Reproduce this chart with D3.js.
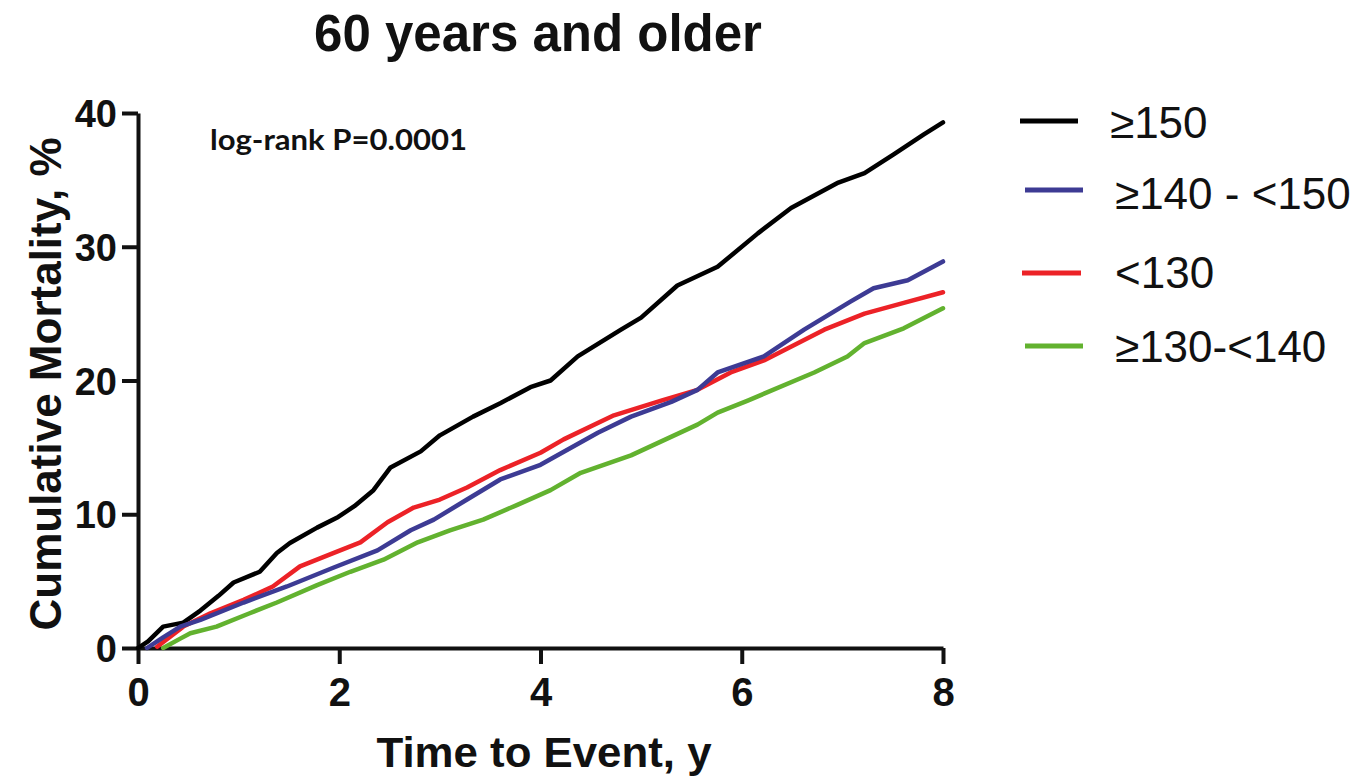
<!DOCTYPE html>
<html>
<head>
<meta charset="utf-8">
<script src="https://cdn.jsdelivr.net/npm/d3@7"></script>
<style>
  html, body { margin: 0; padding: 0; background: #fff; }
  svg { display: block; }
</style>
</head>
<body>
<svg id="chart" width="1372" height="779"></svg>
<script>
// ---- data ----
const titleText = "60 years and older";
const xTicks = [0, 2, 4, 6, 8];
const yTicks = [0, 10, 20, 30, 40];
const seriesNames = ["≥150", "≥140 - <150", "<130", "≥130-<140"];
const seriesColors = ["#000000", "#3d3b94", "#ec2227", "#62b22f"];

const ge150 = [[0,0],[0.1,0.5],[0.25,1.6],[0.45,1.9],[0.62,2.8],[0.8,3.9],[0.95,4.9],[1.21,5.7],[1.38,7.1],[1.51,7.85],[1.78,9.0],[1.99,9.8],[2.15,10.6],[2.34,11.8],[2.51,13.5],[2.81,14.7],[3.0,15.9],[3.33,17.3],[3.6,18.3],[3.9,19.5],[4.1,20.0],[4.37,21.8],[4.8,23.8],[5.0,24.7],[5.36,27.1],[5.76,28.5],[6.16,31.0],[6.49,32.9],[6.96,34.8],[7.22,35.5],[7.51,36.9],[7.81,38.4],[8.0,39.3]];
const ge140lt150 = [[0.09,0],[0.25,0.8],[0.42,1.6],[0.62,2.1],[1.05,3.4],[1.48,4.6],[1.94,6.0],[2.38,7.3],[2.71,8.8],[2.94,9.6],[3.27,11.1],[3.6,12.6],[4.0,13.7],[4.57,16.1],[4.9,17.3],[5.3,18.4],[5.56,19.3],[5.76,20.6],[6.22,21.8],[6.62,23.8],[7.08,25.9],[7.31,26.9],[7.65,27.5],[8.0,28.9]];
const lt130 = [[0.19,0.1],[0.45,1.6],[0.72,2.6],[1.05,3.6],[1.34,4.6],[1.61,6.1],[1.94,7.1],[2.21,7.9],[2.48,9.4],[2.74,10.5],[3.0,11.1],[3.27,12.0],[3.6,13.3],[4.0,14.6],[4.23,15.6],[4.73,17.4],[5.2,18.5],[5.56,19.3],[5.89,20.6],[6.22,21.5],[6.82,23.8],[7.22,25.0],[7.61,25.8],[8.0,26.6]];
const ge130lt140 = [[0.25,0],[0.42,0.7],[0.52,1.1],[0.78,1.6],[1.11,2.6],[1.38,3.4],[1.78,4.7],[2.11,5.7],[2.44,6.6],[2.78,7.9],[3.1,8.8],[3.43,9.6],[3.77,10.7],[4.1,11.8],[4.4,13.1],[4.9,14.4],[5.56,16.7],[5.76,17.6],[6.06,18.5],[6.72,20.6],[7.05,21.8],[7.22,22.8],[7.61,23.9],[8.0,25.4]];
const seriesData = [ge150, ge140lt150, lt130, ge130lt140];

// ---- layout ----
const svg = d3.select("#chart");
const x = d3.scaleLinear().domain([0, 8]).range([138, 943]);
const y = d3.scaleLinear().domain([0, 40]).range([648, 113]);
const font = "'Liberation Sans', Arial, sans-serif";

// title
svg.append("text")
  .attr("x", 538).attr("y", 51)
  .attr("text-anchor", "middle")
  .attr("font-family", font).attr("font-weight", "bold").attr("font-size", 51)
  .attr("fill", "#111")
  .text(titleText);

// axes
const xAxis = d3.axisBottom(x).tickValues(xTicks).tickSize(16).tickSizeOuter(0).tickPadding(14).tickFormat(d3.format("d"));
const yAxis = d3.axisLeft(y).tickValues(yTicks).tickSize(16).tickSizeOuter(0).tickPadding(5).tickFormat(d3.format("d"));

const gx = svg.append("g").attr("transform", `translate(0,${y(0)})`).call(xAxis);
const gy = svg.append("g").attr("transform", `translate(${x(0)},0)`).call(yAxis);

[gx, gy].forEach(g => {
  g.select(".domain").attr("stroke", "#111").attr("stroke-width", 4);
  g.selectAll(".tick line").attr("stroke", "#111").attr("stroke-width", 4);
  g.selectAll(".tick text")
    .attr("font-family", font).attr("font-weight", "bold")
    .attr("fill", "#111");
});
gx.selectAll(".tick text").attr("font-size", 40);
gy.selectAll(".tick text").attr("font-size", 38).attr("dy", "0.36em");

// axis titles
svg.append("text")
  .attr("x", 544).attr("y", 767)
  .attr("text-anchor", "middle")
  .attr("font-family", font).attr("font-weight", "bold").attr("font-size", 42)
  .attr("fill", "#111")
  .attr("textLength", 335).attr("lengthAdjust", "spacingAndGlyphs")
  .text("Time to Event, y");

svg.append("text")
  .attr("transform", "translate(61,384) rotate(-90)")
  .attr("text-anchor", "middle")
  .attr("font-family", font).attr("font-weight", "bold").attr("font-size", 44)
  .attr("fill", "#111")
  .text("Cumulative Mortality, %");

// annotation
svg.append("text")
  .attr("x", 210).attr("y", 150)
  .attr("font-family", "Lato, 'Open Sans', sans-serif").attr("font-weight", "bold").attr("font-size", 29)
  .attr("fill", "#111")
  .attr("textLength", 257).attr("lengthAdjust", "spacingAndGlyphs")
  .text("log-rank P=0.0001");

// lines
const line = d3.line().x(d => x(d[0])).y(d => y(d[1]));
const drawOrder = [0, 3, 2, 1];
drawOrder.forEach(i => {
  svg.append("path")
    .datum(seriesData[i])
    .attr("fill", "none")
    .attr("stroke", seriesColors[i])
    .attr("stroke-width", 4.5)
    .attr("stroke-linejoin", "round")
    .attr("stroke-linecap", "round")
    .attr("d", line);
});

// legend
const legendRows = [
  {lx1: 1020, lx2: 1078, ly: 121, tx: 1110, ty: 138},
  {lx1: 1025, lx2: 1083, ly: 190, tx: 1115, ty: 209},
  {lx1: 1022, lx2: 1081, ly: 273, tx: 1115, ty: 288},
  {lx1: 1025, lx2: 1083, ly: 346, tx: 1115, ty: 362}
];
const lg = svg.append("g");
legendRows.forEach((r, i) => {
  lg.append("line")
    .attr("x1", r.lx1).attr("x2", r.lx2).attr("y1", r.ly).attr("y2", r.ly)
    .attr("stroke", seriesColors[i]).attr("stroke-width", 5);
  lg.append("text")
    .attr("x", r.tx).attr("y", r.ty)
    .attr("font-family", font).attr("font-size", 44)
    .attr("fill", "#111")
    .text(seriesNames[i]);
});
</script>
</body>
</html>
